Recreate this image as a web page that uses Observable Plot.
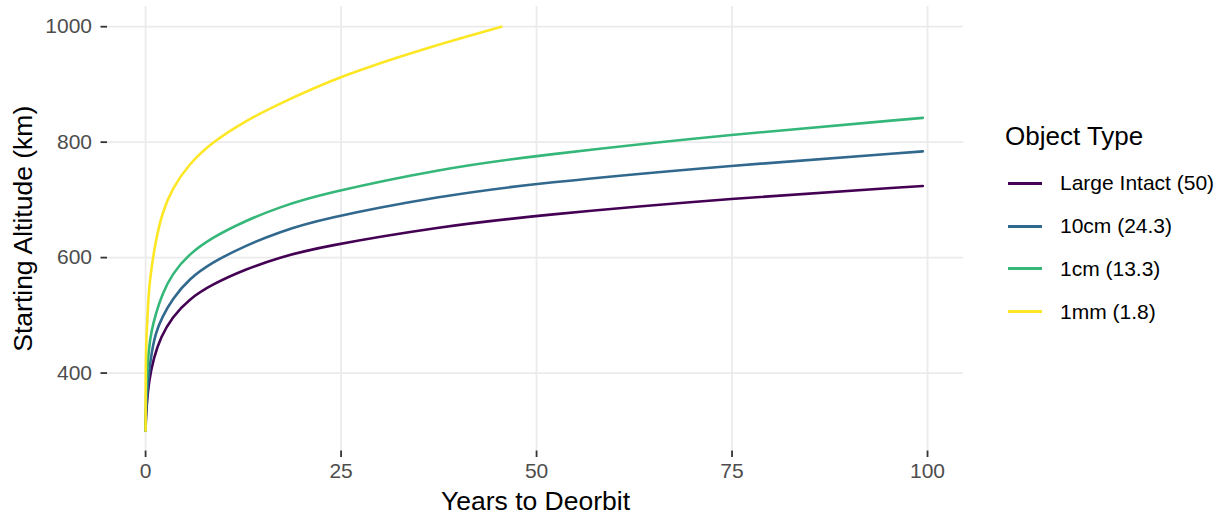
<!DOCTYPE html>
<html>
<head>
<meta charset="utf-8">
<script src="https://cdn.jsdelivr.net/npm/d3@7"></script>
<script src="https://cdn.jsdelivr.net/npm/@observablehq/plot@0.6"></script>
<style>
  body { margin: 0; background: #fff; }
  #chart { position: relative; width: 1226px; height: 516px; font-family: "Liberation Sans", Arial, Helvetica, sans-serif; }
  #chart svg { font-family: "Liberation Sans", Arial, Helvetica, sans-serif; background: #fff; }
  g[aria-label="x-axis tick label"], g[aria-label="y-axis tick label"] { font-size: 21px; fill: #4d4d4d; }
  #legend { position: absolute; left: 0; top: 0; width: 1226px; height: 516px; pointer-events: none; }
  .lg-title { position: absolute; left: 1005px; top: 121px; font-size: 26px; line-height: 30px; color: #000; white-space: nowrap; }
  .lg-row { position: absolute; left: 1008px; height: 30px; display: flex; align-items: center; white-space: nowrap; }
  .lg-key { width: 34px; height: 3px; margin-right: 18px; }
  .lg-label { font-size: 21px; color: #000; }
</style>
</head>
<body>
<div id="chart"></div>
<script>
// Categories and colours
const categories = ["Large Intact (50)", "10cm (24.3)", "1cm (13.3)", "1mm (1.8)"];
const colors = ["#440154", "#31688E", "#35B779", "#FDE725"];

// Tick values and axis titles
const xTicks = [0, 25, 50, 75, 100];
const yTicks = [400, 600, 800, 1000];
const xTitle = ["Years to Deorbit"];
const yTitle = ["Starting Altitude (km)"];

// Series values (years to deorbit, starting altitude km)
const yearsLargeIntact = [0, 0.02, 0.06, 0.13, 0.42, 1.06, 1.92, 3.41, 5.54, 8.53, 12.8, 17.05, 22.4, 37.8, 50, 75, 99.4];
const altLargeIntact   = [300, 312, 325, 341, 387, 427, 462, 497, 528, 554, 580, 600, 619, 654, 673, 703, 724];

const years10cm = [0, 0.02, 0.06, 0.21, 0.64, 1.28, 2.13, 3.41, 5.54, 8.53, 12.8, 17.05, 22.4, 37.8, 50, 75, 99.4];
const alt10cm   = [300, 318, 335, 370, 427, 470, 497, 528, 563, 592, 621, 644, 667, 707, 729, 760, 784];

const years1cm = [0, 0.01, 0.04, 0.13, 0.42, 0.77, 1.28, 2.13, 3.41, 5.54, 8.53, 12.8, 17.05, 22.4, 37.8, 50, 75, 99.4];
const alt1cm   = [300, 325, 350, 387, 445, 474, 502, 537, 572, 606, 635, 664, 687, 710, 754, 777, 814, 842];

const years1mm = [0, 0.005, 0.02, 0.07, 0.15, 0.3, 0.5, 1.28, 2.13, 3.41, 5.54, 8.5, 12.8, 17.0, 25, 35.3, 45.5];
const alt1mm   = [300, 360, 410, 445, 474, 514, 560, 629, 678, 720, 762, 800, 837, 866, 915, 961, 1000];

const series = [
  { name: categories[0], years: yearsLargeIntact, alt: altLargeIntact },
  { name: categories[1], years: years10cm, alt: alt10cm },
  { name: categories[2], years: years1cm, alt: alt1cm },
  { name: categories[3], years: years1mm, alt: alt1mm }
];

const rows = [];
for (const s of series) s.years.forEach((y, i) => rows.push({ type: s.name, years: y, alt: s.alt[i] }));

const chart = Plot.plot({
  width: 1226,
  height: 516,
  marginLeft: 107,
  marginRight: 263,
  marginTop: 6,
  marginBottom: 65.5,
  x: { domain: [-4.87, 104.6] },
  y: { domain: [265, 1035] },
  color: { domain: categories, range: colors },
  marks: [
    Plot.gridX(xTicks, { stroke: "#ebebeb", strokeOpacity: 1, strokeWidth: 1.8 }),
    Plot.gridY(yTicks, { stroke: "#ebebeb", strokeOpacity: 1, strokeWidth: 1.8 }),
    Plot.axisX(xTicks, {
      tickSize: 6.5, tickPadding: 6, stroke: "#333333", strokeWidth: 1.8,
      tickFormat: d => String(d), label: null
    }),
    Plot.axisY(yTicks, {
      tickSize: 6.5, tickPadding: 9, stroke: "#333333", strokeWidth: 1.8,
      tickFormat: d => String(d), label: null
    }),
    Plot.text(xTitle, { text: d => d, frameAnchor: "bottom", lineAnchor: "bottom", dy: 58.5, fontSize: 26.5, fill: "#000" }),
    Plot.text(yTitle, { text: d => d, frameAnchor: "left", textAnchor: "middle", lineAnchor: "top", rotate: -90, dx: -94, fontSize: 26.5, fill: "#000" }),
    Plot.line(rows, { x: "years", y: "alt", z: "type", stroke: "type", curve: "basis", strokeWidth: 2.6 })
  ]
});

const root = document.getElementById("chart");
root.appendChild(chart);

// Legend
const legend = document.createElement("div");
legend.id = "legend";
const title = document.createElement("div");
title.className = "lg-title";
title.textContent = "Object Type";
legend.appendChild(title);
const rowCenters0 = 183.3, rowStep = 42.8;
categories.forEach((c, i) => {
  const row = document.createElement("div");
  row.className = "lg-row";
  row.style.top = (rowCenters0 + i * rowStep - 15) + "px";
  const key = document.createElement("div");
  key.className = "lg-key";
  key.style.background = colors[i];
  const lab = document.createElement("span");
  lab.className = "lg-label";
  lab.textContent = c;
  row.appendChild(key);
  row.appendChild(lab);
  legend.appendChild(row);
});
root.appendChild(legend);
</script>
</body>
</html>
